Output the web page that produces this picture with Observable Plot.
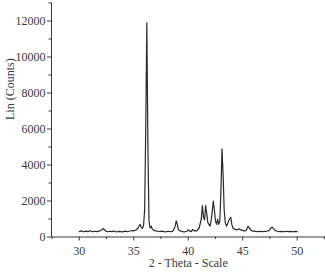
<!DOCTYPE html>
<html><head><meta charset="utf-8">
<script src="https://cdn.jsdelivr.net/npm/d3@7"></script>
<script src="https://cdn.jsdelivr.net/npm/@observablehq/plot@0.6"></script>
<style>body{margin:0;background:#fff}</style>
</head><body><div id="chart"></div>
<script>
const angles = [30.0,30.2,30.4,30.6,30.8,31.0,31.2,31.4,31.6,31.8,32.0,32.2,32.4,32.6,32.8,33.0,33.2,33.4,33.6,33.8,34.0,34.2,34.4,34.6,34.8,35.0,35.2,35.4,35.5,35.6,35.7,35.8,35.9,36.0,36.1,36.2,36.3,36.4,36.5,36.6,36.7,36.8,37.0,37.2,37.4,37.6,37.8,38.0,38.2,38.4,38.6,38.8,38.9,39.0,39.1,39.3,39.5,39.7,39.9,40.0,40.1,40.3,40.4,40.6,40.8,41.0,41.1,41.2,41.3,41.4,41.5,41.6,41.7,41.8,41.9,42.0,42.1,42.2,42.3,42.4,42.5,42.6,42.7,42.8,42.9,43.0,43.1,43.2,43.3,43.4,43.5,43.6,43.7,43.8,43.9,44.0,44.1,44.3,44.5,44.7,44.9,45.1,45.3,45.5,45.6,45.8,46.0,46.2,46.4,46.6,46.8,47.0,47.2,47.4,47.6,47.7,47.8,48.0,48.2,48.4,48.6,48.8,49.0,49.2,49.4,49.6,49.8,50.0];
const counts = [300,340,290,330,300,350,290,320,300,330,360,480,340,290,320,300,330,280,310,300,290,330,300,320,360,340,390,500,620,700,520,480,650,1500,6000,11900,5000,900,500,600,450,380,340,320,300,330,290,300,320,290,330,600,900,700,400,330,300,290,320,400,340,300,420,330,350,500,750,1000,1750,1100,950,1750,1300,800,700,600,900,1400,2000,1500,900,700,1000,700,900,2500,4900,3500,1500,800,600,700,900,1000,1100,700,500,420,400,450,380,340,350,600,500,350,330,310,300,320,300,310,320,350,500,550,480,350,320,300,310,290,320,300,310,290,310,300];
const xMajor = [30,35,40,45,50];
const xMinor = [27.5,32.5,37.5,42.5,47.5,52.5];
const yMajor = [0,2000,4000,6000,8000,10000,12000];
const yMinor = [1000,3000,5000,7000,9000,11000,13000];
const xDomain = [27.45, 52.6];
const yDomain = [0, 13000];

const data = angles.map((a, i) => ({angle: a, count: counts[i]}));
const ink = "#3a3a3a";

const chart = Plot.plot({
  width: 325, height: 272,
  marginLeft: 51, marginRight: 0, marginTop: 2.5, marginBottom: 35.5,
  style: {fontFamily: "'Liberation Serif', serif", fontSize: "12px", color: ink, background: "#fff"},
  x: {domain: xDomain},
  y: {domain: yDomain},
  marks: [
    Plot.ruleX([xDomain[0]], {stroke: ink, strokeWidth: 1}),
    Plot.ruleY([yDomain[0]], {stroke: ink, strokeWidth: 1}),
    Plot.axisY({ticks: yMajor, tickSize: 4, tickPadding: 2, tickFormat: d => String(d), label: null, stroke: ink, fill: ink}),
    Plot.axisY({ticks: yMinor, tickSize: 2.5, text: null, label: null, stroke: ink}),
    Plot.axisX({ticks: xMajor, tickSize: 4, tickPadding: 5, label: null, stroke: ink, fill: ink}),
    Plot.axisX({ticks: xMinor, tickSize: 2.5, text: null, label: null, stroke: ink}),
    Plot.text(["Lin (Counts)"], {frameAnchor: "left", dx: -41, rotate: -90, fill: ink, fontSize: 12}),
    Plot.text(["2 - Theta - Scale"], {x: 40, frameAnchor: "bottom", dy: 30, fill: ink, fontSize: 12}),
    Plot.line(data, {x: "angle", y: "count", stroke: "#2a2a2a", strokeWidth: 1.2})
  ]
});
document.getElementById("chart").appendChild(chart);
</script></body></html>
